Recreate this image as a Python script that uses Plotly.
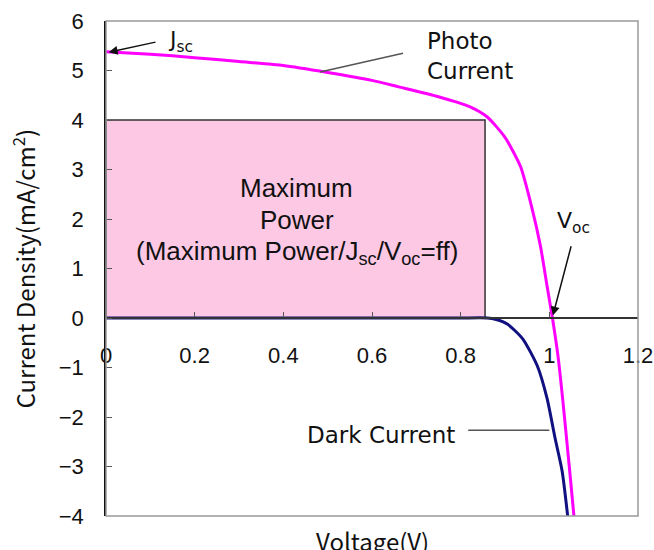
import plotly.graph_objects as go

# Photo (illuminated) J-V curve
photo_v = [0.0, 0.1, 0.2, 0.3, 0.4, 0.5, 0.6, 0.66, 0.75, 0.82, 0.86, 0.9,
           0.935, 0.96, 0.98, 0.995, 1.007, 1.02, 1.03, 1.045, 1.056]
photo_j = [5.38, 5.33, 5.26, 5.18, 5.10, 4.96, 4.80, 4.67, 4.47, 4.27, 4.06, 3.65,
           3.06, 2.25, 1.45, 0.64, 0.0, -0.8, -1.63, -3.0, -4.05]

# Dark J-V curve
dark_v = [0.0, 0.2, 0.4, 0.6, 0.8, 0.86, 0.88, 0.905, 0.94, 0.973, 0.995,
          1.013, 1.029, 1.042]
dark_j = [0.0, 0.0, 0.0, 0.0, 0.0, 0.0, -0.03, -0.12, -0.42, -0.97, -1.63,
          -2.43, -3.1, -4.05]

# Maximum power point
v_mp = 0.855
j_mp = 4.0

x_ticks = [0, 0.2, 0.4, 0.6, 0.8, 1.0, 1.2]
x_tick_text = ["0", "0.2", "0.4", "0.6", "0.8", "1", "1.2"]
y_ticks = [-4, -3, -2, -1, 0, 1, 2, 3, 4, 5, 6]
y_tick_text = ["\u22124", "\u22123", "\u22122", "\u22121", "0", "1", "2", "3", "4", "5", "6"]

X_RANGE = [0, 1.2]
Y_RANGE = [-4, 6]

NUM_FONT = "Liberation Sans, Arial, sans-serif"
LABEL_FONT = "DejaVu Sans, Verdana, sans-serif"
JP_FONT = "Noto Sans CJK JP, sans-serif"
INK = "#111111"

fig = go.Figure()

# Maximum power rectangle
fig.add_trace(go.Scatter(
    x=[0, v_mp, v_mp, 0, 0], y=[0, 0, j_mp, j_mp, 0],
    mode="lines", fill="toself", fillcolor="#FCC8E4",
    line=dict(color="#333333", width=1.5), hoverinfo="skip", showlegend=False,
))

fig.add_trace(go.Scatter(
    x=dark_v, y=dark_j, mode="lines",
    line=dict(color="#101080", width=3, shape="spline", smoothing=0.6),
    showlegend=False,
))

fig.add_trace(go.Scatter(
    x=photo_v, y=photo_j, mode="lines",
    line=dict(color="#FF00FF", width=3, shape="spline", smoothing=0.6),
    showlegend=False,
))

# y position of the data zero in paper coordinates
zero_frac = (0 - Y_RANGE[0]) / (Y_RANGE[1] - Y_RANGE[0])

fig.update_layout(
    template="none",
    width=654, height=550,
    margin=dict(l=106, r=16, t=21, b=34),
    paper_bgcolor="white", plot_bgcolor="white",
    showlegend=False,
    xaxis=dict(
        range=X_RANGE, anchor="free", position=zero_frac, side="bottom",
        automargin=False,
        tickvals=x_ticks, ticktext=x_tick_text,
        ticks="inside", ticklen=5, tickcolor="#555555", tickwidth=1,
        showline=True, linecolor="#333333", linewidth=1.5,
        showgrid=False, zeroline=False,
        tickfont=dict(family=NUM_FONT, size=22, color=INK),
        ticklabelstandoff=18,
    ),
    yaxis=dict(
        range=Y_RANGE, tickvals=y_ticks, ticktext=y_tick_text,
        automargin=False,
        ticks="inside", ticklen=6, tickcolor="#555555", tickwidth=1,
        showline=True, linecolor=INK, linewidth=1.5,
        showgrid=False, zeroline=False,
        tickfont=dict(family=NUM_FONT, size=22, color=INK),
        ticklabelstandoff=16,
    ),
)

# plot frame
fig.add_shape(type="rect", xref="paper", yref="paper", x0=0, x1=1, y0=0, y1=1,
              line=dict(color="#999999", width=1.5), layer="above")

# callout lines
fig.add_shape(type="line", xref="x", yref="y", x0=0.67, y0=5.35, x1=0.483, y1=4.97,
              line=dict(color="#555555", width=1.5))
fig.add_shape(type="line", xref="x", yref="y", x0=0.817, y0=-2.27, x1=1.0, y1=-2.27,
              line=dict(color="#555555", width=1.5))

# arrows
fig.add_annotation(x=0.006, y=5.37, ax=0.115, ay=5.58, axref="x", ayref="y", xref="x", yref="y",
                   text="", showarrow=True, arrowhead=2, arrowsize=1.2, arrowwidth=1.5, arrowcolor=INK)
fig.add_annotation(x=1.008, y=0.05, ax=1.05, ay=1.48, axref="x", ayref="y", xref="x", yref="y",
                   text="", showarrow=True, arrowhead=2, arrowsize=1.2, arrowwidth=1.5, arrowcolor=INK)

# text labels
fig.add_annotation(x=0.135, y=5.58, xref="x", yref="y", xanchor="left", yanchor="middle",
                   text="J<sub>sc</sub>", showarrow=False,
                   font=dict(family=LABEL_FONT, size=22, color=INK))
fig.add_annotation(x=0.72, y=5.29, xref="x", yref="y", xanchor="left", yanchor="middle", align="left",
                   text="Photo<br>Current", showarrow=False,
                   font=dict(family=LABEL_FONT, size=23, color=INK))
fig.add_annotation(x=1.013, y=1.93, xref="x", yref="y", xanchor="left", yanchor="middle",
                   text="V<sub>oc</sub>", showarrow=False,
                   font=dict(family=LABEL_FONT, size=22, color=INK))
fig.add_annotation(x=0.449, y=-2.37, xref="x", yref="y", xanchor="left", yanchor="middle",
                   text="Dark Current", showarrow=False,
                   font=dict(family=LABEL_FONT, size=23, color=INK))
for txt, yy in [("Maximum", 2.62), ("Power", 1.98), ("(Maximum Power/J<sub>sc</sub>/V<sub>oc</sub>=ff)", 1.32)]:
    fig.add_annotation(x=0.43, y=yy, xref="x", yref="y", xanchor="center", yanchor="middle",
                       text=txt, showarrow=False,
                       font=dict(family=NUM_FONT, size=26, color=INK))

# axis titles
fig.add_annotation(x=0.5, y=-0.05, xref="paper", yref="paper", xanchor="center", yanchor="middle",
                   text="Voltage(V)", showarrow=False,
                   font=dict(family=JP_FONT, size=24, color=INK))
fig.add_annotation(x=-0.156, y=0.5, xref="paper", yref="paper", xanchor="center", yanchor="middle",
                   text="Current Density(mA/cm<sup>2</sup>)", textangle=-90, showarrow=False,
                   font=dict(family=JP_FONT, size=24, color=INK))

fig.write_html("out.html")
